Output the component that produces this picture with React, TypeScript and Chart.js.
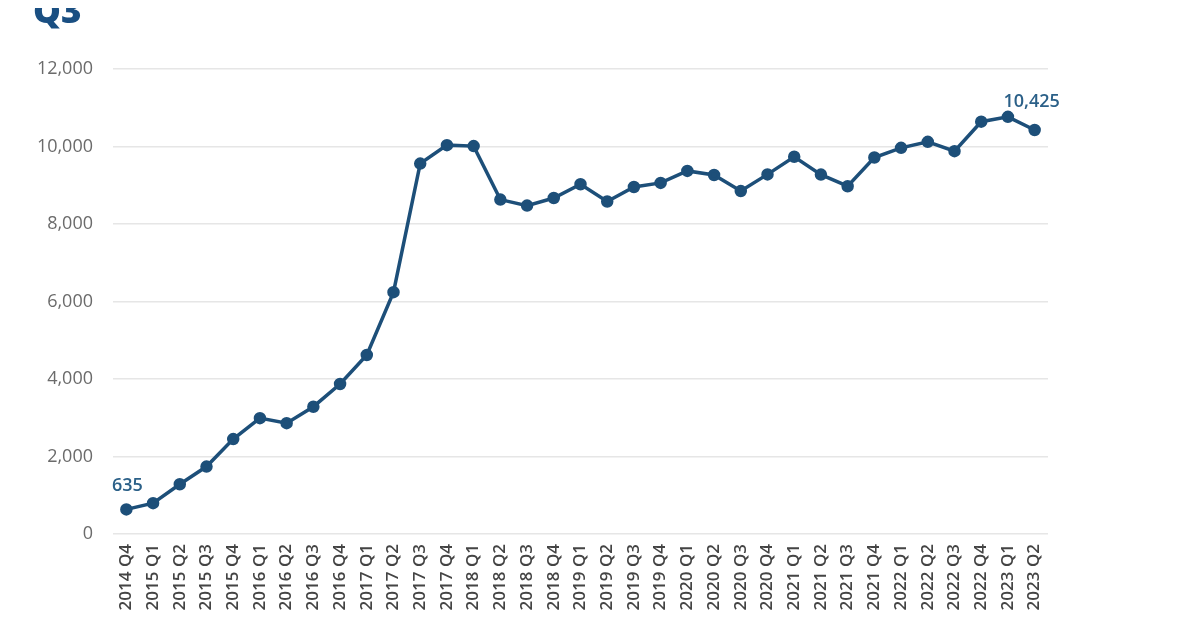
import { useEffect, useRef } from "react";
import Chart from "chart.js/auto";

const quarters = [
  "2014 Q4",
  "2015 Q1", "2015 Q2", "2015 Q3", "2015 Q4",
  "2016 Q1", "2016 Q2", "2016 Q3", "2016 Q4",
  "2017 Q1", "2017 Q2", "2017 Q3", "2017 Q4",
  "2018 Q1", "2018 Q2", "2018 Q3", "2018 Q4",
  "2019 Q1", "2019 Q2", "2019 Q3", "2019 Q4",
  "2020 Q1", "2020 Q2", "2020 Q3", "2020 Q4",
  "2021 Q1", "2021 Q2", "2021 Q3", "2021 Q4",
  "2022 Q1", "2022 Q2", "2022 Q3", "2022 Q4",
  "2023 Q1", "2023 Q2",
];

const counts = [
  635,
  795, 1285, 1740, 2450,
  2990, 2860, 3285, 3870,
  4620, 6240, 9560, 10035,
  10010, 8630, 8475, 8670,
  9025, 8580, 8955, 9060,
  9370, 9265, 8850, 9280,
  9735, 9275, 8975, 9715,
  9965, 10120, 9880, 10640,
  10765, 10425,
];

const yTicks = [0, 2000, 4000, 6000, 8000, 10000, 12000];

const BLUE = "#1d4f79";

// labels on the first and last point
const endLabels = {
  id: "endLabels",
  afterDatasetsDraw(chart: any) {
    const meta = chart.getDatasetMeta(0);
    const ctx = chart.ctx;
    const first = meta.data[0];
    const last = meta.data[meta.data.length - 1];
    ctx.save();
    ctx.font = "600 18px 'Open Sans'";
    ctx.fillStyle = "#2b6088";
    ctx.textBaseline = "bottom";
    ctx.textAlign = "center";
    ctx.fillText(counts[0].toLocaleString("en-US"), first.x + 1, first.y - 15);
    ctx.fillText(counts[counts.length - 1].toLocaleString("en-US"), last.x - 3, last.y - 19);
    ctx.restore();
  },
};

export default function App() {
  const canvasRef = useRef<HTMLCanvasElement>(null);

  useEffect(() => {
    if (!canvasRef.current) return;
    const chart = new Chart(canvasRef.current, {
      type: "line",
      data: {
        labels: quarters,
        datasets: [
          {
            data: counts,
            borderColor: BLUE,
            backgroundColor: BLUE,
            borderWidth: 3.5,
            pointRadius: 4.5,
            pointBackgroundColor: BLUE,
            pointBorderColor: BLUE,
            tension: 0,
          },
        ],
      },
      options: {
        animation: false,
        responsive: false,
        layout: { padding: { left: 0, right: 148, top: 69, bottom: 0 } },
        plugins: {
          legend: { display: false },
          tooltip: { enabled: false },
        },
        scales: {
          x: {
            offset: true,
            grid: { display: false, drawTicks: false },
            border: { display: false },
            ticks: {
              minRotation: 90,
              maxRotation: 90,
              autoSkip: false,
              padding: 10,
              color: "#444",
              font: { family: "'Open Sans'", size: 17, weight: 600 },
            },
            afterFit: (scale: any) => {
              scale.height = 94;
            },
          },
          y: {
            min: 0,
            max: 12000,
            afterBuildTicks: (scale: any) => {
              scale.ticks = yTicks.map((v) => ({ value: v }));
            },
            grid: { color: "#e6e6e6", lineWidth: 1.5, drawTicks: false },
            border: { display: false },
            ticks: {
              padding: 20,
              color: "#6b6b6b",
              font: { family: "'Open Sans'", size: 18 },
              callback: (v: any) => Number(v).toLocaleString("en-US"),
            },
            afterFit: (scale: any) => {
              scale.width = 113;
            },
          },
        },
      },
      plugins: [endLabels],
    });
    return () => chart.destroy();
  }, []);

  return (
    <div style={{ position: "relative", width: 1196, height: 628, overflow: "hidden", background: "#fff", margin: -8 }}>
      <div
        style={{
          position: "absolute",
          left: 33,
          top: -10,
          fontFamily: "'Open Sans'",
          fontWeight: 800,
          fontSize: 35,
          lineHeight: "40px",
          color: "#1a4f82",
        }}
      >
        Q3
      </div>
      <canvas ref={canvasRef} width={1196} height={628} style={{ display: "block" }} />
    </div>
  );
}
